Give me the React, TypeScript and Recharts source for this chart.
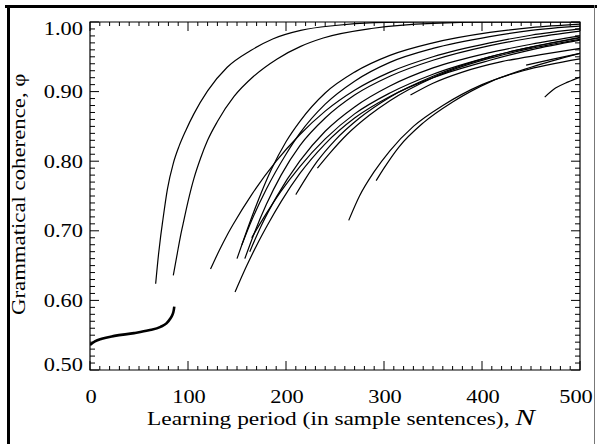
import { LineChart, Line, XAxis, YAxis, ReferenceArea } from "recharts";

// plot box inside the 597x444 picture
const W = 597;
const H = 444;
const PLOT_LEFT = 90;
const PLOT_RIGHT = 580;
const PLOT_TOP = 22;
const PLOT_BOTTOM = 370;
const Y_AXIS_W = 80;
const X_AXIS_H = 30;
const FONT = '"Liberation Serif", "Times New Roman", serif';
const SX = 1.18; // the original lettering is wide

const X_LABELS = [0, 100, 200, 300, 400, 500];
const Y_LABELS = ["0.50", "0.60", "0.70", "0.80", "0.90", "1.00"];
const X_MINOR = Array.from({ length: 51 }, (_, i) => i * 10);
const Y_MINOR = Array.from({ length: 51 }, (_, i) => (50 + i) / 100);

// [N, phi]
const LOW = [[0, 0.536], [5, 0.541], [12, 0.545], [25, 0.549], [45, 0.553], [60, 0.557], [72, 0.562], [78, 0.567], [82, 0.574], [84, 0.579], [85.5, 0.586], [86, 0.591]];
const CURVE_A = [[67, 0.624], [70, 0.667], [72, 0.691], [74, 0.712], [79, 0.76], [85, 0.797], [91, 0.822], [98, 0.845], [106, 0.868], [120, 0.901], [140, 0.935], [164, 0.959], [187, 0.976], [215, 0.988], [250, 0.995], [290, 0.999], [340, 1.0], [500, 1.0]];
const CURVE_B = [[85, 0.636], [89, 0.667], [92, 0.69], [95, 0.71], [100, 0.742], [106, 0.775], [113, 0.805], [120, 0.83], [130, 0.857], [147, 0.893], [167, 0.922], [191, 0.947], [215, 0.965], [238, 0.977], [289, 0.991], [350, 0.998], [420, 1.0], [500, 1.0]];
const CURVE_C = [[123, 0.645], [132, 0.672], [140, 0.694], [146, 0.709], [165, 0.752], [190, 0.8], [214, 0.838], [240, 0.872], [270, 0.902], [306, 0.928], [350, 0.95], [408, 0.97], [450, 0.981], [500, 0.99]];
const CURVE_D1 = [[150, 0.66], [160, 0.7], [172, 0.745], [185, 0.788], [200, 0.828], [214, 0.857], [240, 0.898], [270, 0.928], [306, 0.952], [350, 0.97], [408, 0.985], [450, 0.992], [500, 0.997]];
const CURVE_D2 = [[155, 0.68], [165, 0.715], [180, 0.76], [200, 0.81], [214, 0.84], [240, 0.882], [270, 0.915], [306, 0.942], [350, 0.962], [408, 0.979], [450, 0.988], [500, 0.994]];
const CURVE_D3 = [[158, 0.66], [168, 0.698], [180, 0.738], [195, 0.78], [214, 0.822], [240, 0.862], [270, 0.895], [306, 0.922], [350, 0.945], [408, 0.966], [450, 0.977], [500, 0.987]];
const CURVE_D4 = [[163, 0.67], [175, 0.708], [190, 0.748], [214, 0.8], [240, 0.843], [270, 0.878], [306, 0.908], [350, 0.934], [408, 0.956], [450, 0.968], [500, 0.98]];
const CURVE_E = [[148, 0.612], [160, 0.65], [170, 0.679], [181, 0.708], [195, 0.742], [214, 0.782], [240, 0.825], [270, 0.862], [306, 0.893], [350, 0.92], [408, 0.945], [450, 0.96], [500, 0.974]];
const CURVE_E2 = [[165, 0.69], [180, 0.725], [195, 0.757], [214, 0.792], [240, 0.832], [270, 0.868], [306, 0.898], [350, 0.925], [408, 0.95], [450, 0.964], [500, 0.977]];
const CURVE_F = [[210, 0.752], [220, 0.775], [232, 0.8], [250, 0.83], [275, 0.862], [306, 0.892], [350, 0.922], [408, 0.95], [450, 0.964], [500, 0.978]];
const CURVE_F2 = [[232, 0.79], [245, 0.812], [262, 0.838], [285, 0.866], [306, 0.887], [350, 0.92], [408, 0.948], [450, 0.962], [500, 0.975]];
const CURVE_G = [[264, 0.715], [275, 0.75], [290, 0.785], [306, 0.815], [330, 0.85], [360, 0.88], [400, 0.91], [442, 0.93], [500, 0.947]];
const CURVE_H = [[292, 0.772], [300, 0.79], [315, 0.82], [340, 0.855], [370, 0.885], [410, 0.915], [450, 0.935], [500, 0.955]];
const CURVE_I = [[327, 0.895], [350, 0.912], [380, 0.928], [420, 0.943], [460, 0.953], [500, 0.962]];
const CURVE_J = [[445, 0.938], [470, 0.946], [500, 0.955]];
const CURVE_K = [[464, 0.892], [475, 0.905], [488, 0.914], [500, 0.921]];

const CURVES = [CURVE_A, CURVE_B, CURVE_C, CURVE_D1, CURVE_D2, CURVE_D3, CURVE_D4, CURVE_E, CURVE_E2, CURVE_F, CURVE_F2, CURVE_G, CURVE_H, CURVE_I, CURVE_J, CURVE_K];

const toRows = (pts: number[][]) => pts.map(([n, phi]) => ({ n, phi }));

function XTick(props: any) {
  const { x, payload } = props;
  const v = payload.value;
  const major = X_LABELS.includes(v);
  const len = major ? 9 : 4;
  // last label sits against the frame in the original
  const cx = v === 500 ? x - 4 : x + 1;
  return (
    <g>
      <line x1={x} x2={x} y1={PLOT_BOTTOM} y2={PLOT_BOTTOM - len} stroke="#000" />
      <line x1={x} x2={x} y1={PLOT_TOP} y2={PLOT_TOP + len} stroke="#000" />
      {major && (
        <text
          transform={`translate(${cx},403) scale(${SX},1)`}
          textAnchor="middle"
          fontFamily={FONT}
          fontSize={19}
          fill="#000"
        >
          {v}
        </text>
      )}
    </g>
  );
}

function YTick(props: any) {
  const { y, payload } = props;
  const v = Math.round(payload.value * 100);
  const major = v % 10 === 0;
  const len = major ? 9 : 5;
  const label = (v / 100).toFixed(2);
  const dy = v === 100 ? 13 : v === 50 ? 1 : 6.5;
  return (
    <g>
      <line x1={PLOT_LEFT} x2={PLOT_LEFT + len} y1={y} y2={y} stroke="#000" />
      <line x1={PLOT_RIGHT} x2={PLOT_RIGHT - len} y1={y} y2={y} stroke="#000" />
      {major && Y_LABELS.includes(label) && (
        <text
          transform={`translate(83,${y + dy}) scale(${SX},1)`}
          textAnchor="end"
          fontFamily={FONT}
          fontSize={19}
          fill="#000"
        >
          {label}
        </text>
      )}
    </g>
  );
}

export default function App() {
  return (
    <div style={{ position: "fixed", left: 0, top: 0, width: W, height: H, background: "#fff", overflow: "hidden" }}>
      <LineChart
        width={W}
        height={H}
        margin={{ top: PLOT_TOP, right: W - PLOT_RIGHT, bottom: H - PLOT_BOTTOM - X_AXIS_H, left: PLOT_LEFT - Y_AXIS_W }}
      >
        <XAxis
          type="number"
          dataKey="n"
          domain={[0, 500]}
          ticks={X_MINOR}
          interval={0}
          height={X_AXIS_H}
          axisLine={false}
          tickLine={false}
          tick={<XTick />}
          allowDataOverflow
        />
        <YAxis
          type="number"
          domain={[0.5, 1.0]}
          ticks={Y_MINOR}
          interval={0}
          width={Y_AXIS_W}
          axisLine={false}
          tickLine={false}
          tick={<YTick />}
          allowDataOverflow
        />
        <ReferenceArea x1={0} x2={500} y1={0.5} y2={1.0} fill="none" stroke="#000" strokeWidth={1.2} ifOverflow="visible" />
        <Line
          data={toRows(LOW)}
          dataKey="phi"
          type="monotone"
          stroke="#000"
          strokeWidth={2.6}
          dot={false}
          isAnimationActive={false}
        />
        {CURVES.map((c, i) => (
          <Line
            key={i}
            data={toRows(c)}
            dataKey="phi"
            type="monotone"
            stroke="#000"
            strokeWidth={1.2}
            dot={false}
            isAnimationActive={false}
          />
        ))}
      </LineChart>
      <svg width={W} height={H} style={{ position: "absolute", left: 0, top: 0, pointerEvents: "none" }}>
        <text transform={`translate(147,425) scale(1.23,1)`} fontFamily={FONT} fontSize={19} fill="#000">
          Learning period (in sample sentences),{" "}
          <tspan fontStyle="italic" fontSize={24}>N</tspan>
        </text>
        <text transform={`translate(25,315) rotate(-90) scale(1.2,1)`} fontFamily={FONT} fontSize={19} fill="#000">
          Grammatical coherence, φ
        </text>
        <line x1={5} x2={W} y1={6.5} y2={6.5} stroke="#000" strokeWidth={3} />
        <line x1={8.5} x2={8.5} y1={5} y2={H} stroke="#000" strokeWidth={3} />
        <line x1={594.5} x2={594.5} y1={5} y2={H} stroke="#777" strokeWidth={1} />
      </svg>
    </div>
  );
}
